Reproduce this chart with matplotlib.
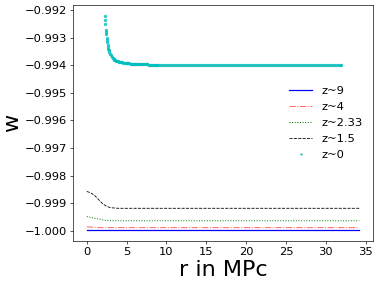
import matplotlib
matplotlib.use('Agg')
from matplotlib import pyplot as plt

# r grid for the four z>0 runs (MPc)
r_lines = [0, 0.5, 1.0, 1.5, 2.0, 2.5, 3.0, 3.5, 4.0, 5.0, 10.0, 20.0, 34.2]

w_z9 = [-0.99998, -0.99998, -0.99998, -0.99998, -0.99998, -0.99998, -0.99998,
        -0.99998, -0.99998, -0.99998, -0.99998, -0.99998, -0.99998]
w_z4 = [-0.99985, -0.99986, -0.99987, -0.99988, -0.99988, -0.99988, -0.99988,
        -0.99988, -0.99988, -0.99988, -0.99988, -0.99988, -0.99988]
w_z233 = [-0.99948, -0.99951, -0.99954, -0.99957, -0.99960, -0.99962, -0.99963,
          -0.99963, -0.99963, -0.99963, -0.99963, -0.99963, -0.99963]
w_z15 = [-0.99857, -0.99862, -0.99872, -0.99887, -0.99902, -0.99911, -0.99916,
         -0.99917, -0.99918, -0.99918, -0.99918, -0.99918, -0.99918]

# z~0 run, plotted as dots
r_z0 = [2.26, 2.30, 2.34, 2.38, 2.43, 2.47, 2.51, 2.56, 2.60, 2.63, 2.68, 2.72,
        2.78, 2.84, 2.94, 3.05, 3.15, 3.26, 3.37, 3.47, 3.58, 3.68, 3.80, 3.90,
        4.00, 4.10, 4.20, 4.31, 4.45, 4.60, 4.75, 4.90, 5.00, 5.10, 5.20, 5.35,
        5.50, 5.60, 5.75, 5.85, 6.00, 6.10, 6.25, 6.35, 6.50, 6.60, 6.75, 6.85,
        7.00, 7.10, 7.25, 7.35, 7.50, 7.60, 7.75, 7.85, 8.00, 8.10, 8.25, 8.35,
        8.50, 8.60, 8.75, 8.85,
        9.00, 9.25, 9.50, 9.75, 10.00, 10.25, 10.50, 10.75, 11.00, 11.25,
        11.50, 11.75, 12.00, 12.25, 12.50, 12.75, 13.00, 13.25, 13.50, 13.75,
        14.00, 14.25, 14.50, 14.75, 15.00, 15.25, 15.50, 15.75, 16.00, 16.25,
        16.50, 16.75, 17.00, 17.25, 17.50, 17.75, 18.00, 18.25, 18.50, 18.75,
        19.00, 19.25, 19.50, 19.75, 20.00, 20.25, 20.50, 20.75, 21.00, 21.25,
        21.50, 21.75, 22.00, 22.25, 22.50, 22.75, 23.00, 23.25, 23.50, 23.75,
        24.00, 24.25, 24.50, 24.75, 25.00, 25.25, 25.50, 25.75, 26.00, 26.25,
        26.50, 26.75, 27.00, 27.25, 27.50, 27.75, 28.00, 28.25, 28.50, 28.75,
        29.00, 29.25, 29.50, 29.75, 30.00, 30.25, 30.50, 30.75, 31.00, 31.25,
        31.50, 31.75, 31.90]
w_z0 = [-0.99221, -0.99236, -0.99250, -0.99271, -0.99280, -0.99287, -0.99301,
        -0.99309, -0.99316, -0.99328, -0.99334, -0.99340, -0.99346, -0.99352,
        -0.99358, -0.99364, -0.99369, -0.99374, -0.99377, -0.99380, -0.99382,
        -0.99383, -0.99385, -0.99386, -0.99387, -0.99387, -0.99388, -0.99388,
        -0.99389, -0.99390, -0.99391, -0.99392, -0.99392, -0.99393, -0.99393,
        -0.99393, -0.99394, -0.99394, -0.99394, -0.99395, -0.99395, -0.99395,
        -0.99395, -0.99396, -0.99396, -0.99396, -0.99396, -0.99396, -0.99397,
        -0.99397, -0.99397, -0.99397, -0.99397, -0.99397, -0.99398, -0.99398,
        -0.99398, -0.99398, -0.99398, -0.99398, -0.99398, -0.99398, -0.99398,
        -0.99398,
        -0.99399, -0.99399, -0.99399, -0.99399, -0.99399, -0.99399, -0.99399,
        -0.99399, -0.99399, -0.99399, -0.99399, -0.99399, -0.99399, -0.99399,
        -0.99399, -0.99399, -0.99399, -0.99399, -0.99399, -0.99399, -0.99399,
        -0.99399, -0.99399, -0.99399, -0.99399, -0.99399, -0.99399, -0.99399,
        -0.99399, -0.99399, -0.99399, -0.99399, -0.99399, -0.99399, -0.99399,
        -0.99399, -0.99399, -0.99399, -0.99399, -0.99399, -0.99399, -0.99399,
        -0.99399, -0.99399, -0.99399, -0.99399, -0.99399, -0.99399, -0.99399,
        -0.99399, -0.99399, -0.99399, -0.99399, -0.99399, -0.99399, -0.99399,
        -0.99399, -0.99399, -0.99399, -0.99399, -0.99399, -0.99399, -0.99399,
        -0.99399, -0.99399, -0.99399, -0.99399, -0.99399, -0.99399, -0.99399,
        -0.99399, -0.99399, -0.99399, -0.99399, -0.99399, -0.99399, -0.99399,
        -0.99399, -0.99399, -0.99399, -0.99399, -0.99399, -0.99399, -0.99399,
        -0.99399, -0.99399, -0.99399, -0.99399, -0.99399, -0.99399, -0.99399,
        -0.99399, -0.99399]

dpi = 59.3
fig = plt.figure(figsize=(379 / dpi, 285 / dpi), dpi=dpi)
ax = fig.add_subplot(111)
fig.subplots_adjust(left=0.193, right=0.984, bottom=0.154, top=0.982)

ax.plot(r_lines, w_z9, 'b-', linewidth=1.5, label='z~9')
ax.plot(r_lines, w_z4, 'r-.', linewidth=1.2, alpha=0.6, label='z~4')
ax.plot(r_lines, w_z233, 'g:', linewidth=1.2, label='z~2.33')
ax.plot(r_lines, w_z15, 'k--', linewidth=1.0, label='z~1.5')
ax.plot(r_z0, w_z0, 'o', color='c', markersize=3, alpha=0.8, label='z~0')

ax.set_yticks([-0.992, -0.993, -0.994, -0.995, -0.996, -0.997, -0.998, -0.999, -1.000])
ax.set_xticks([0, 5, 10, 15, 20, 25, 30, 35])
ax.tick_params(labelsize=14)

ax.set_xlabel('r in MPc', fontsize=27)
ax.set_ylabel('w', fontsize=27)

ax.legend(loc='center right', frameon=False, fontsize=14, markerscale=0.6)

fig.savefig('out.png', dpi=dpi)
